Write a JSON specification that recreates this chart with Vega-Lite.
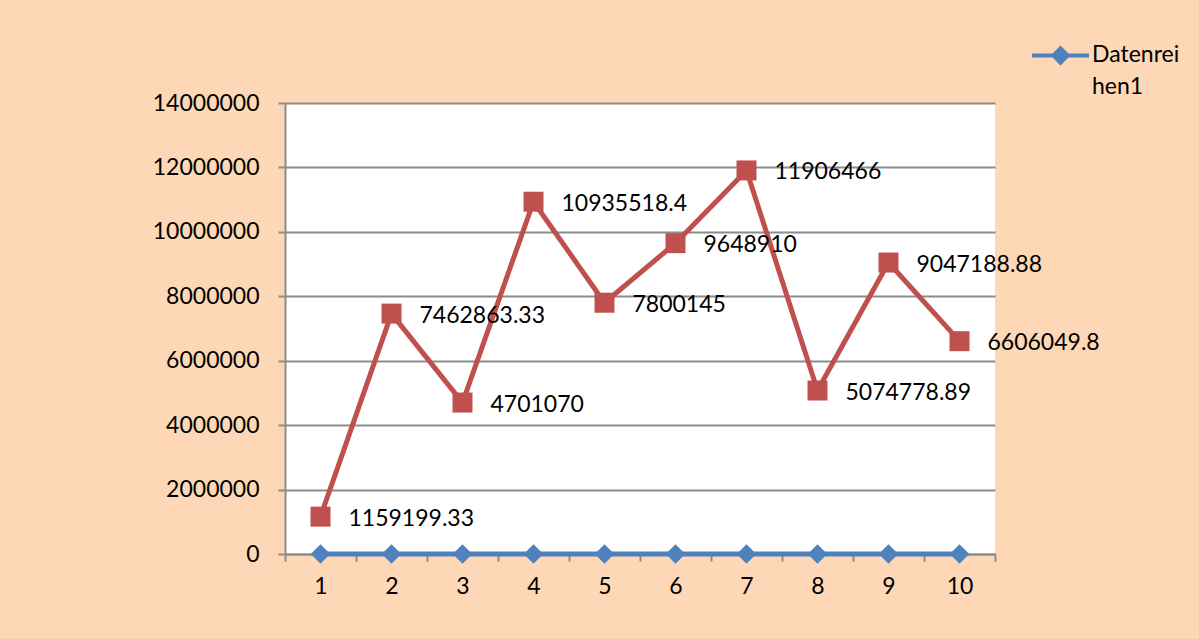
{
  "$schema": "https://vega.github.io/schema/vega-lite/v6.json",
  "width": 710,
  "height": 451,
  "autosize": {"type": "none"},
  "padding": {"left": 285, "top": 103, "right": 204, "bottom": 85},
  "background": "#fed8b6",
  "config": {
    "view": {"fill": "white", "stroke": null},
    "font": "Lato",
    "style": {"guide-label": {"lineHeight": 32}}
  },
  "data": {
    "values": [
      {"x": "1", "series": "Datenreihen1", "value": 0},
      {"x": "2", "series": "Datenreihen1", "value": 0},
      {"x": "3", "series": "Datenreihen1", "value": 0},
      {"x": "4", "series": "Datenreihen1", "value": 0},
      {"x": "5", "series": "Datenreihen1", "value": 0},
      {"x": "6", "series": "Datenreihen1", "value": 0},
      {"x": "7", "series": "Datenreihen1", "value": 0},
      {"x": "8", "series": "Datenreihen1", "value": 0},
      {"x": "9", "series": "Datenreihen1", "value": 0},
      {"x": "10", "series": "Datenreihen1", "value": 0},
      {"x": "1", "series": "Datenreihen2", "value": 1159199.33, "label": "1159199.33"},
      {"x": "2", "series": "Datenreihen2", "value": 7462863.33, "label": "7462863.33"},
      {"x": "3", "series": "Datenreihen2", "value": 4701070, "label": "4701070"},
      {"x": "4", "series": "Datenreihen2", "value": 10935518.4, "label": "10935518.4"},
      {"x": "5", "series": "Datenreihen2", "value": 7800145, "label": "7800145"},
      {"x": "6", "series": "Datenreihen2", "value": 9648910, "label": "9648910"},
      {"x": "7", "series": "Datenreihen2", "value": 11906466, "label": "11906466"},
      {"x": "8", "series": "Datenreihen2", "value": 5074778.89, "label": "5074778.89"},
      {"x": "9", "series": "Datenreihen2", "value": 9047188.88, "label": "9047188.88"},
      {"x": "10", "series": "Datenreihen2", "value": 6606049.8, "label": "6606049.8"}
    ]
  },
  "encoding": {
    "x": {
      "field": "x",
      "type": "ordinal",
      "sort": ["1","2","3","4","5","6","7","8","9","10"],
      "scale": {"paddingInner": 0, "paddingOuter": 0},
      "axis": {
        "title": null,
        "labelAngle": 0,
        "labelFontSize": 23,
        "labelColor": "black",
        "labelPadding": 14,
        "tickBand": "extent",
        "tickSize": 7,
        "tickColor": "#8c8c8c",
        "tickWidth": 2,
        "domainColor": "#8c8c8c",
        "domainWidth": 2,
        "grid": false
      }
    },
    "y": {
      "field": "value",
      "type": "quantitative",
      "scale": {"domain": [0, 14000000], "nice": false},
      "axis": {
        "title": null,
        "values": [0, 2000000, 4000000, 6000000, 8000000, 10000000, 12000000, 14000000],
        "format": "d",
        "labelFontSize": 23,
        "labelColor": "black",
        "labelPadding": 19,
        "tickSize": 7,
        "tickColor": "#8c8c8c",
        "tickWidth": 2,
        "domainColor": "#8c8c8c",
        "domainWidth": 2,
        "grid": true,
        "gridColor": "#8c8c8c",
        "gridWidth": 2
      }
    }
  },
  "layer": [
    {
      "transform": [{"filter": "datum.series === 'Datenreihen2'"}],
      "mark": {"type": "line", "color": "#c0504d", "strokeWidth": 5},
      "encoding": {}
    },
    {
      "transform": [{"filter": "datum.series === 'Datenreihen2'"}],
      "mark": {"type": "point", "shape": "square", "filled": true, "opacity": 1, "color": "#c0504d", "size": 400},
      "encoding": {}
    },
    {
      "transform": [{"filter": "datum.series === 'Datenreihen2'"}],
      "mark": {"type": "text", "align": "left", "baseline": "middle", "dx": 28, "dy": 2, "fontSize": 23, "color": "black"},
      "encoding": {"text": {"field": "label"}}
    },
    {
      "transform": [{"filter": "datum.series === 'Datenreihen1'"}],
      "mark": {"type": "line", "strokeWidth": 5},
      "encoding": {
        "color": {
          "field": "series",
          "type": "nominal",
          "scale": {"domain": ["Datenreihen1"], "range": ["#4f81bd"]},
          "legend": {
            "title": null,
            "orient": "none",
            "legendX": 747,
            "legendY": -88,
            "padding": 0,
            "symbolType": "M-1,0.35L-0.28,0.35L0,0.07L0.28,0.35L1,0.35L1,0.49L0.28,0.49L0,0.77L-0.28,0.49L-1,0.49Z",
            "symbolSize": 3249,
            "symbolFillColor": "#4f81bd",
            "symbolStrokeWidth": 0,
            "labelExpr": "['Datenrei', 'hen1']",
            "labelFontSize": 23,
            "labelColor": "black",
            "labelOffset": 3,
            "labelBaseline": "top",
            "labelLimit": 200
          }
        }
      }
    },
    {
      "transform": [{"filter": "datum.series === 'Datenreihen1'"}],
      "mark": {"type": "point", "shape": "diamond", "filled": true, "opacity": 1, "color": "#4f81bd", "size": 380},
      "encoding": {}
    }
  ]
}
